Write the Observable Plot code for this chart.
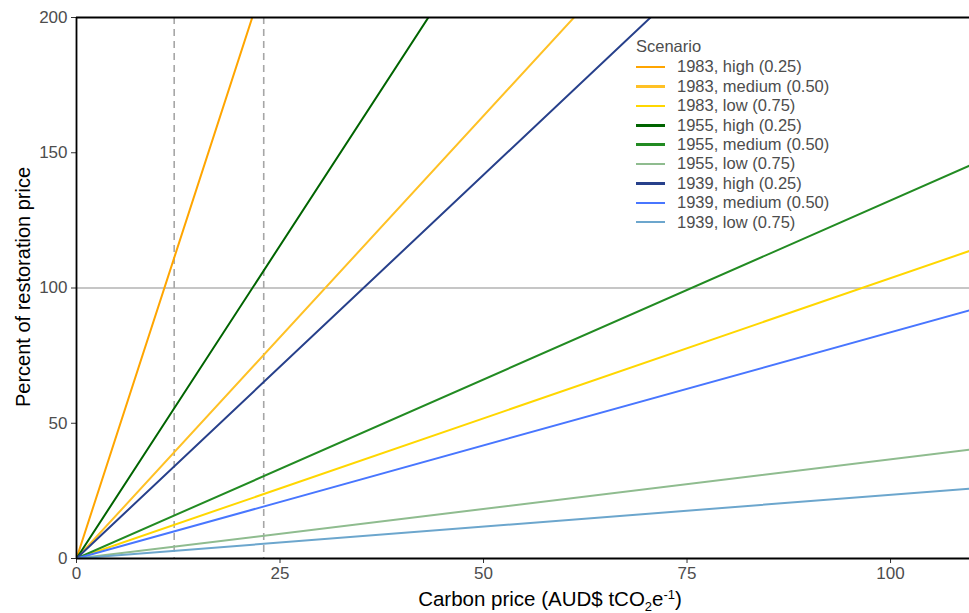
<!DOCTYPE html>
<html>
<head>
<meta charset="utf-8">
<script src="https://cdn.jsdelivr.net/npm/d3@7"></script>
<script src="https://cdn.jsdelivr.net/npm/@observablehq/plot@0.6"></script>
<style>
  html, body { margin: 0; padding: 0; background: #fff; }
  #wrap { position: relative; width: 969px; height: 613px; font-family: "Liberation Sans", Arial, sans-serif; }
  #legend { position: absolute; left: 636px; top: 37px; font-size: 16.5px; color: #4d4d4d; line-height: 19.4px; }
  #legend .title { margin-bottom: 1px; }
  #legend .row { display: flex; align-items: center; height: 19.4px; }
  #legend .sw { width: 29px; height: 2.5px; margin-right: 12px; }
</style>
</head>
<body>
<div id="wrap"></div>
<script>
// Scenarios (legend order)
const scenarios = [
  "1983, high (0.25)", "1983, medium (0.50)", "1983, low (0.75)",
  "1955, high (0.25)", "1955, medium (0.50)", "1955, low (0.75)",
  "1939, high (0.25)", "1939, medium (0.50)", "1939, low (0.75)"
];
const colors = [
  "#FFA500", "#FFC125", "#FFD700",
  "#006400", "#228B22", "#8FBC8F",
  "#27408B", "#4876FF", "#6CA6CD"
];
// Percent of restoration price at carbon price 0 and 110 (straight lines)
const startValue = [0, 0, 0, 0, 0, 0, 0, 0, 0];
const endValue = [1019, 360, 114, 509, 145.6, 40.3, 312, 92, 25.9];
const startPrice = 0;
const endPrice = 110;
// reference lines
const referencePrices = [12, 23];
const referencePercent = [100];
const xTicks = [0, 25, 50, 75, 100];
const yTicks = [0, 50, 100, 150, 200];
const yMax = 200;

const rows = [];
scenarios.forEach((s, i) => {
  rows.push({scenario: s, price: startPrice, pct: startValue[i]});
  rows.push({scenario: s, price: endPrice, pct: endValue[i]});
});

const chart = Plot.plot({
  width: 969,
  height: 613,
  marginLeft: 76,
  marginTop: 17,
  marginRight: 0,
  marginBottom: 55,
  style: {fontFamily: "'Liberation Sans', Arial, sans-serif", fontSize: "17px", color: "#4d4d4d", background: "white"},
  x: {domain: [0, 109.7]},
  y: {domain: [0, yMax]},
  color: {domain: scenarios, range: colors},
  marks: [
    Plot.ruleY(referencePercent, {stroke: "#b3b3b3", strokeWidth: 1.6}),
    Plot.ruleX(referencePrices, {stroke: "#a6a6a6", strokeWidth: 1.6, strokeDasharray: "7,5"}),
    Plot.line(rows, {x: "price", y: "pct", z: "scenario", stroke: "scenario", strokeWidth: 2, clip: true}),
    Plot.axisX({ticks: xTicks, tickSize: 5, tickPadding: 3, fontSize: 17, label: null, stroke: "#333"}),
    Plot.axisY({ticks: yTicks, tickSize: 5, tickPadding: 4, fontSize: 17, label: null, stroke: "#333"}),
    Plot.ruleY([0, yMax], {stroke: "black", strokeWidth: 1.8}),
    Plot.ruleX([0], {stroke: "black", strokeWidth: 1.8})
  ]
});

const wrap = document.getElementById("wrap");
wrap.appendChild(chart);

const svg = d3.select(chart);
// x-axis title with sub/superscripts
const xt = svg.append("text")
  .attr("x", 550).attr("y", 606)
  .attr("text-anchor", "middle")
  .attr("fill", "black")
  .style("font-size", "20.5px")
  .style("font-family", "'Liberation Sans', Arial, sans-serif");
xt.append("tspan").text("Carbon price (AUD$ tCO");
xt.append("tspan").attr("dy", 5).style("font-size", "13px").text("2");
xt.append("tspan").attr("dy", -5).text("e");
xt.append("tspan").attr("dy", -7).style("font-size", "13px").text("-1");
xt.append("tspan").attr("dy", 7).text(")");

// y-axis title
svg.append("text")
  .attr("transform", "translate(30,287) rotate(-90)")
  .attr("text-anchor", "middle")
  .attr("fill", "black")
  .style("font-size", "20px")
  .style("font-family", "'Liberation Sans', Arial, sans-serif")
  .text("Percent of restoration price");

// legend
const legend = document.createElement("div");
legend.id = "legend";
const t = document.createElement("div");
t.className = "title";
t.textContent = "Scenario";
legend.appendChild(t);
scenarios.forEach((s, i) => {
  const r = document.createElement("div");
  r.className = "row";
  const sw = document.createElement("div");
  sw.className = "sw";
  sw.style.background = colors[i];
  const lab = document.createElement("span");
  lab.textContent = s;
  r.appendChild(sw);
  r.appendChild(lab);
  legend.appendChild(r);
});
wrap.appendChild(legend);
</script>
</body>
</html>
